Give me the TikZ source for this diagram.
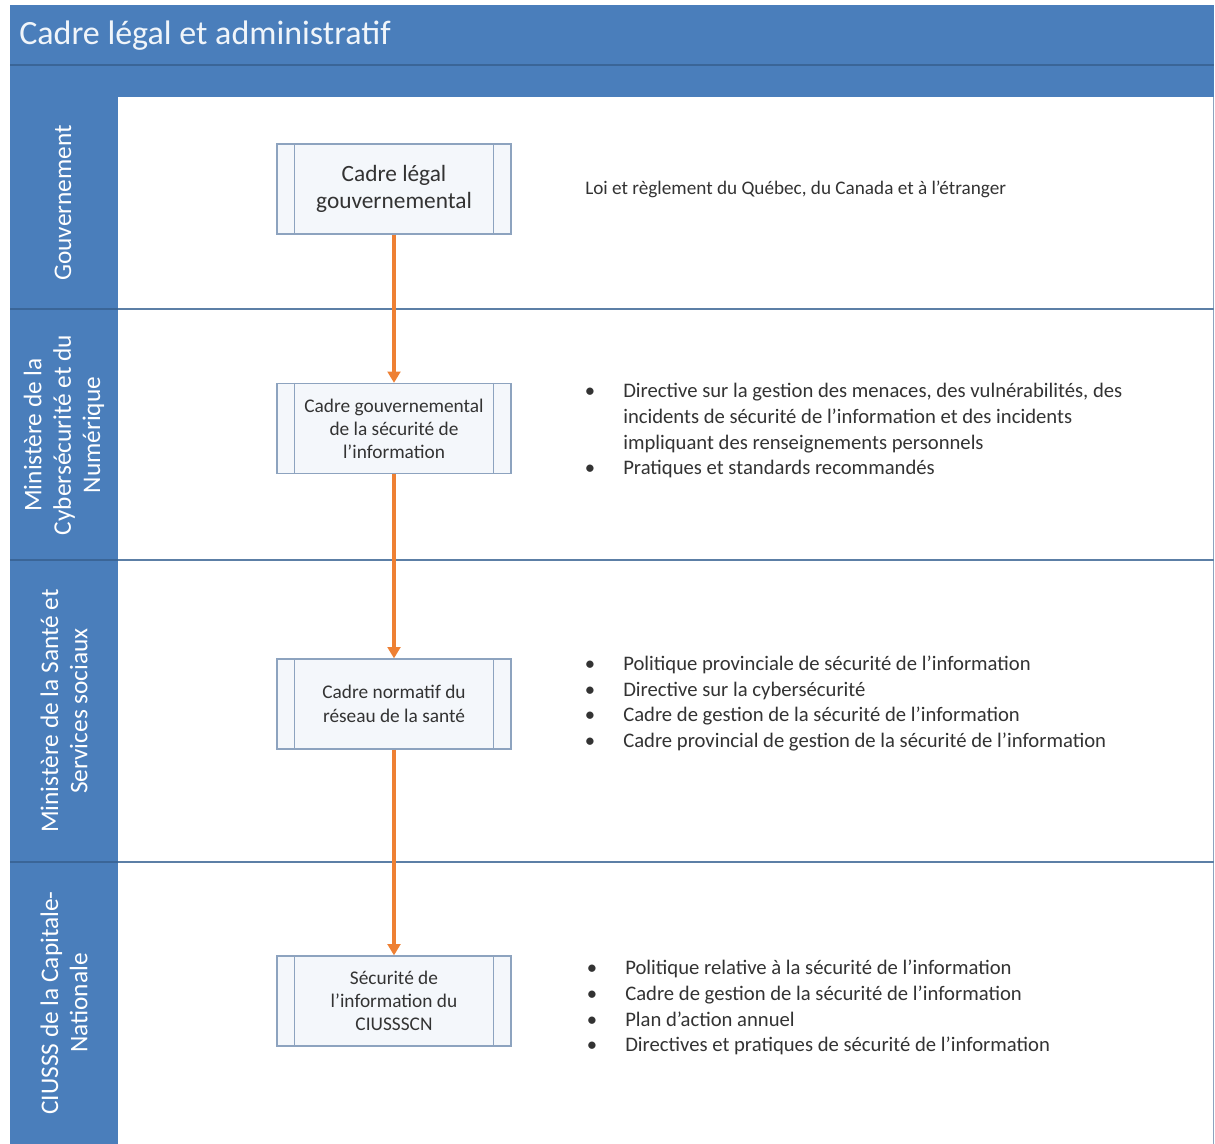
\documentclass[tikz,border=0pt]{standalone}
\usepackage{fontspec}
\setmainfont{Carlito}
\usetikzlibrary{arrows.meta}
\definecolor{laneblue}{HTML}{4A7EBB}
\definecolor{darkline}{HTML}{3A6597}
\definecolor{sepline}{HTML}{5C7FA6}
\definecolor{boxline}{HTML}{8DA3BF}
\definecolor{boxfill}{HTML}{F4F7FB}
\definecolor{arrow}{HTML}{EE8033}
\definecolor{txt}{HTML}{333333}
\tikzset{
  procbox/.style={draw=boxline, line width=0.9pt, fill=boxfill, minimum width=175.5pt, minimum height=67.5pt, align=center, text=txt, inner sep=0pt},
  lanelabel/.style={rotate=90, text=white, align=center, font=\fontsize{19}{22}\selectfont},
  flow/.style={draw=arrow, line width=2.6pt, -{Triangle[width=9.5pt,length=8.5pt]}},
  sep/.style={draw=sepline, line width=1.1pt},
  btxt/.style={anchor=base west, inner sep=0pt, align=left, text=txt, font=\fontsize{15.5}{19.5}\selectfont},
  bdot/.style={anchor=base, inner sep=0pt, text=txt, font=\fontsize{15.5}{19.5}\selectfont}
}
\begin{document}
\begin{tikzpicture}[x=0.75pt,y=-0.75pt]
\useasboundingbox (0,0) rectangle (1215,1144);
% frame
\fill[white] (0,0) rectangle (1215,1144);
\fill[laneblue] (10,5) rectangle (1214,97);
\fill[laneblue] (10,97) rectangle (118,1144);
\draw[darkline, line width=0.9pt] (10,65) -- (1214,65);
\draw[boxline, line width=0.8pt] (1213.5,97) -- (1213.5,1144);
\node[anchor=west, text=white!92!laneblue, font=\fontsize{25.5}{28}\selectfont, inner sep=0pt] (title) at (19,36) {Cadre légal et administratif};
% lane separators
\foreach \y in {309,560,862} {
  \draw[darkline, line width=1pt] (10,\y) -- (118,\y);
  \draw[sep] (118,\y) -- (1214,\y);
}
% lane labels
\node[lanelabel] (l1) at (63,203) {Gouvernement};
\node[lanelabel] (l2) at (64,435) {Ministère de la\\Cybersécurité et du\\Numérique};
\node[lanelabel] (l3) at (64,711) {Ministère de la Santé et\\Services sociaux};
\node[lanelabel] (l4) at (64,1003) {CIUSSS de la Capitale-\\Nationale};
% process boxes
\node[procbox, font=\fontsize{17.5}{20.5}\selectfont] (b1) at (394,189) {Cadre légal\\gouvernemental};
\node[procbox, font=\fontsize{14.5}{17.25}\selectfont] (b2) at (394,428.5) {Cadre gouvernemental\\de la sécurité de\\l’information};
\node[procbox, font=\fontsize{14.5}{18}\selectfont] (b3) at (394,704) {Cadre normatif du\\réseau de la santé};
\node[procbox, font=\fontsize{14.5}{17.25}\selectfont] (b4) at (394,1001) {Sécurité de\\l’information du\\CIUSSSCN};
\foreach \b in {b1,b2,b3,b4} {
  \draw[boxline, line width=0.9pt] ([xshift=13.5pt]\b.north west) -- ([xshift=13.5pt]\b.south west);
  \draw[boxline, line width=0.9pt] ([xshift=-13.5pt]\b.north east) -- ([xshift=-13.5pt]\b.south east);
}
% arrows
\draw[flow] (b1) -- (b2);
\draw[flow] (b2) -- (b3);
\draw[flow] (b3) -- (b4);
% descriptions
\node[anchor=west, inner sep=0pt, text=txt, font=\fontsize{14.4}{19.5}\selectfont] (d1) at (585,189) {Loi et règlement du Québec, du Canada et à l’étranger};
% lane 2
\node[bdot] (p21) at (590,398) {\textbullet};
\node[btxt] (t21) at (623,398) {\begin{tabular}[t]{@{}l@{}}Directive sur la gestion des menaces, des vulnérabilités, des\\incidents de sécurité de l’information et des incidents\\impliquant des renseignements personnels\end{tabular}};
\node[bdot] (p22) at (590,475) {\textbullet};
\node[btxt] (t22) at (623,475) {Pratiques et standards recommandés};
% lane 3
\node[bdot] (p31) at (590,671) {\textbullet};
\node[btxt] (t31) at (623,671) {Politique provinciale de sécurité de l’information};
\node[bdot] (p32) at (590,697) {\textbullet};
\node[btxt] (t32) at (623,697) {Directive sur la cybersécurité};
\node[bdot] (p33) at (590,722) {\textbullet};
\node[btxt] (t33) at (623,722) {Cadre de gestion de la sécurité de l’information};
\node[bdot] (p34) at (590,748) {\textbullet};
\node[btxt] (t34) at (623,748) {Cadre provincial de gestion de la sécurité de l’information};
% lane 4
\node[bdot] (p41) at (592,974) {\textbullet};
\node[btxt] (t41) at (625,974) {Politique relative à la sécurité de l’information};
\node[bdot] (p42) at (592,1000) {\textbullet};
\node[btxt] (t42) at (625,1000) {Cadre de gestion de la sécurité de l’information};
\node[bdot] (p43) at (592,1026) {\textbullet};
\node[btxt] (t43) at (625,1026) {Plan d’action annuel};
\node[bdot] (p44) at (592,1051) {\textbullet};
\node[btxt] (t44) at (625,1051) {Directives et pratiques de sécurité de l’information};
\end{tikzpicture}
\end{document}
